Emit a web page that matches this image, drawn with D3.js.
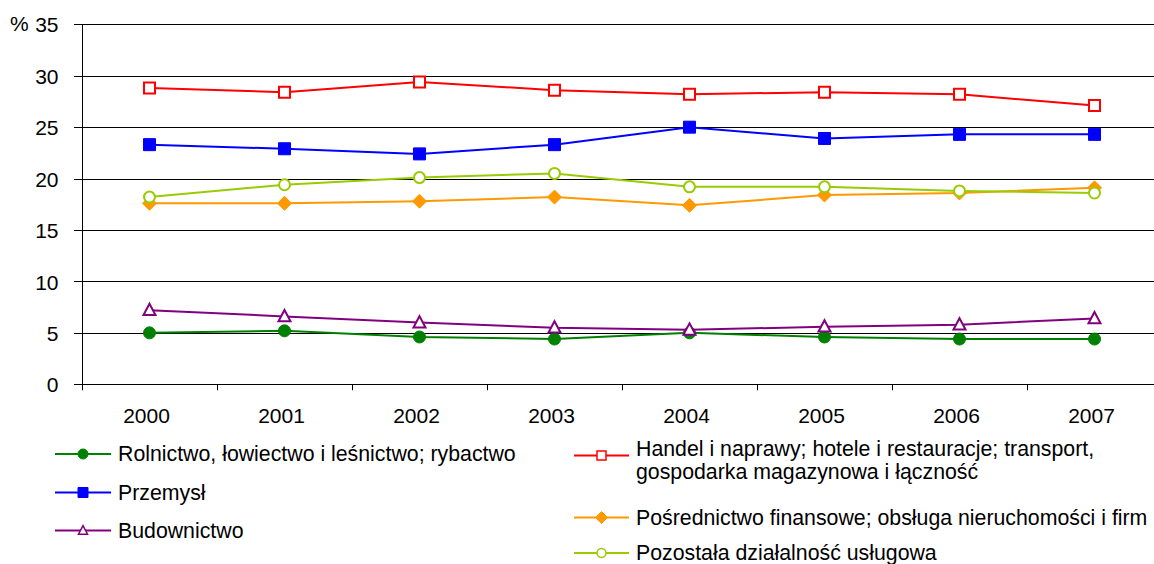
<!DOCTYPE html>
<html><head><meta charset="utf-8">
<script src="https://cdn.jsdelivr.net/npm/d3@7"></script>
<style>body{margin:0;background:#fff;overflow:hidden}svg{display:block;font-family:"Liberation Sans",Arial,sans-serif}</style>
</head><body><svg id="c" width="1154" height="564"></svg>
<script>
const years = ["2000","2001","2002","2003","2004","2005","2006","2007"];
const yTicks = [0,5,10,15,20,25,30,35];
const rolnictwo = [5.0,5.2,4.6,4.4,5.0,4.6,4.4,4.4];
const przemysl = [23.3,22.9,22.4,23.3,25.0,23.9,24.3,24.3];
const budownictwo = [7.2,6.6,6.0,5.5,5.3,5.6,5.8,6.4];
const handel = [28.8,28.4,29.4,28.6,28.2,28.4,28.2,27.1];
const posrednictwo = [17.6,17.6,17.8,18.2,17.4,18.4,18.6,19.1];
const pozostala = [18.2,19.4,20.1,20.5,19.2,19.2,18.8,18.6];

const seriesNames = [
  "Rolnictwo, łowiectwo i leśnictwo; rybactwo",
  "Przemysł",
  "Budownictwo",
  ["Handel i naprawy; hotele i restauracje; transport,","gospodarka magazynowa i łączność"],
  "Pośrednictwo finansowe; obsługa nieruchomości i firm",
  "Pozostała działalność usługowa"
];
const series = [
  {name:seriesNames[0], values:rolnictwo, color:"#008000", marker:"circle", fill:true},
  {name:seriesNames[1], values:przemysl, color:"#0000ff", marker:"square", fill:true},
  {name:seriesNames[2], values:budownictwo, color:"#800080", marker:"triangle", fill:false},
  {name:seriesNames[3], values:handel, color:"#ff0000", marker:"square", fill:false},
  {name:seriesNames[4], values:posrednictwo, color:"#ff9900", marker:"diamond", fill:true},
  {name:seriesNames[5], values:pozostala, color:"#99cc00", marker:"circle", fill:false}
];

const FS = 21, LFS = 21.3;
const svg = d3.select("#c");
const L=82, R=1162, T=24.3, B=384.3;
const x = d3.scaleBand().domain(years).range([L,R]);
const y = d3.scaleLinear().domain([0,35]).range([B,T]);

// gridlines
svg.append("g").selectAll("line").data(yTicks).join("line")
  .attr("x1",L-8).attr("x2",R).attr("y1",d=>Math.round(y(d))+0.5).attr("y2",d=>Math.round(y(d))+0.5)
  .attr("stroke","#000").attr("stroke-width",1);

// y axis
const ya = svg.append("g").attr("transform",`translate(${L},0)`)
  .call(d3.axisLeft(y).tickValues(yTicks).tickSize(0).tickPadding(23.5));
ya.select(".domain").remove();
ya.selectAll("text").attr("font-size",FS).attr("fill","#000").attr("font-family","Liberation Sans, Arial, sans-serif")
  .attr("dy","0.36em");
svg.append("line").attr("x1",L+0.5).attr("x2",L+0.5).attr("y1",Math.round(T)).attr("y2",Math.round(B)+1).attr("stroke","#000");

// x axis
const xa = svg.append("g").attr("transform",`translate(-3,${Math.round(B)+0.5})`)
  .call(d3.axisBottom(x).tickSize(0).tickPadding(0));
xa.select(".domain").remove();
xa.selectAll("text").attr("font-size",FS).attr("fill","#000").attr("font-family","Liberation Sans, Arial, sans-serif")
  .attr("y",38).attr("dy",0);
const bounds = years.map(d=>x(d)).concat([R]);
svg.append("g").selectAll("line").data(bounds).join("line")
  .attr("x1",d=>Math.round(d)+0.5).attr("x2",d=>Math.round(d)+0.5)
  .attr("y1",B).attr("y2",B+6).attr("stroke","#000");

svg.append("text").attr("x",10).attr("y",31).attr("font-size",FS).text("%");

function markerPath(type, s){
  if(type==="circle") return d3.symbol(d3.symbolCircle, s*s*Math.PI/4)();
  if(type==="square") return `M${-s/2},${-s/2}h${s}v${s}h${-s}Z`;
  if(type==="triangle") { const h=s*0.9; return `M0,${-h*0.6}L${s/2},${h*0.45}L${-s/2},${h*0.45}Z`; }
  if(type==="diamond") return `M0,${-s/2}L${s/2},0L0,${s/2}L${-s/2},0Z`;
}
const msize = {circle:12, square:12, triangle:13, diamond:14};

const cx = d=>x(d)+x.bandwidth()/2;
const line = d3.line().x((v,i)=>cx(years[i])).y(v=>y(v));

series.forEach(s=>{
  const g = svg.append("g");
  g.append("path").attr("d",line(s.values)).attr("fill","none").attr("stroke",s.color).attr("stroke-width",2);
  g.selectAll("path.m").data(s.values).join("path").attr("class","m")
    .attr("transform",(v,i)=>`translate(${cx(years[i])},${y(v)})`)
    .attr("d",markerPath(s.marker, s.fill?msize[s.marker]:msize[s.marker]-1))
    .attr("fill",s.fill?s.color:"#fff").attr("stroke",s.color).attr("stroke-width",s.fill?1:2);
});

// legend
const legPos = [
  {x:55, y:454, ty:461},{x:55, y:492.5, ty:499.5},{x:55, y:530.5, ty:537.5},
  {x:574, y:455.5, ty:456},{x:574, y:517.5, ty:524.5},{x:574, y:553, ty:559.5}
];
const lmsize = {circle:10, square:10, triangle:10, diamond:12};
series.forEach((s,i)=>{
  const p = legPos[i];
  const g = svg.append("g").attr("transform",`translate(${p.x},0)`);
  const w = i<3?56:55;
  g.append("line").attr("x1",0).attr("x2",w).attr("y1",p.y).attr("y2",p.y).attr("stroke",s.color).attr("stroke-width",2);
  g.append("path").attr("transform",`translate(${w/2},${p.y})`).attr("d",markerPath(s.marker, s.fill?lmsize[s.marker]:lmsize[s.marker]-1))
    .attr("fill",s.fill?s.color:"#fff").attr("stroke",s.color).attr("stroke-width",s.fill?1:1.5);
  const names = Array.isArray(s.name)?s.name:[s.name];
  names.forEach((n,j)=>g.append("text").attr("x",w+7).attr("y",p.ty+j*23).attr("font-size",LFS).attr("fill","#000").text(n));
});
</script></body></html>
